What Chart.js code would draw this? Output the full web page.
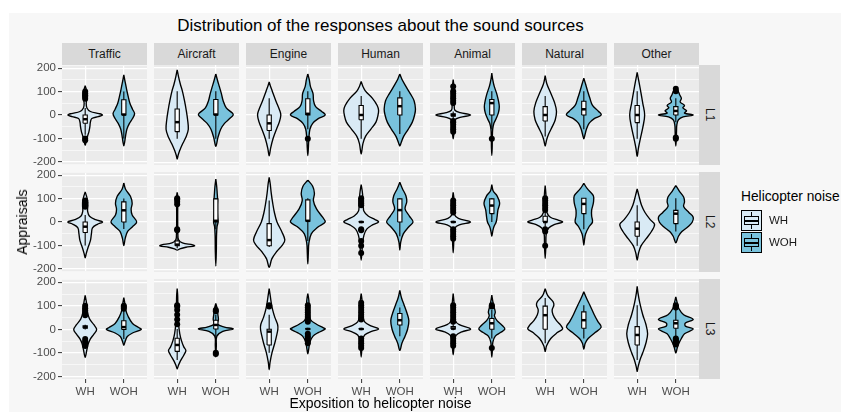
<!DOCTYPE html>
<html>
<head>
<meta charset="utf-8">
<script src="https://cdn.jsdelivr.net/npm/chart.js@4.4.1/dist/chart.umd.min.js"></script>
<style>
  body { margin: 0; width: 841px; height: 412px; background: #fff; position: relative; overflow: hidden;
         font-family: "Liberation Sans", Arial, sans-serif; }
  #sheet { position: absolute; left: 9px; top: 13px; right: 0; bottom: 0; background: #f7f7f7; }
  canvas { position: absolute; }
  .strip { position: absolute; background: #d9d9d9; color: #1a1a1a; font-size: 12px;
           display: flex; align-items: center; justify-content: center; }
  .strip.side { writing-mode: vertical-rl; }
  .txt { position: absolute; white-space: nowrap; }
  .key { position: absolute; width: 21px; height: 21px; box-sizing: border-box; border: 1px solid #000; }
  .key .box { position: absolute; left: 2px; right: 2px; top: 5px; bottom: 5px; border: 1px solid #000; }
  .key .med { position: absolute; left: 2px; right: 2px; top: 9px; height: 2px; background: #000; }
  .key .wh { position: absolute; left: 9px; width: 1px; background: #000; }
</style>
</head>
<body>
<div id="sheet"></div>
<script>
// Facets and groups
const sources = ['Traffic', 'Aircraft', 'Engine', 'Human', 'Animal', 'Natural', 'Other'];
const levels = ['L1', 'L2', 'L3'];
const groups = ['WH', 'WOH'];
const yTickValues = [-200, -100, 0, 100, 200];
const yTickLabels = ['-200', '-100', '0', '100', '200'];
const yGridValues = [-200, -150, -100, -50, 0, 50, 100, 150, 200];

// Violin outlines, one per source: flat (appraisal, relative half-width) pairs from top to bottom
const shapeL1WH = [
  [125,0, 110,.06, 90,.12, 70,.1, 50,.06, 30,.1, 15,.3, 6,.8, 0,1, -7,.75, -15,.38, -30,.3, -50,.27, -70,.22, -90,.14, -110,.07, -130,0],
  [190,0, 160,.08, 130,.18, 100,.3, 60,.42, 20,.52, -20,.6, -60,.64, -90,.52, -120,.32, -150,.14, -170,.05, -185,0],
  [139,0, 120,.08, 100,.18, 60,.38, 20,.6, 0,.67, -30,.58, -60,.42, -100,.22, -140,.08, -171,0],
  [141,0, 120,.1, 100,.25, 70,.65, 40,.92, 20,1, 0,.97, -30,.85, -60,.55, -90,.25, -120,.1, -164,0],
  [149,0, 120,.04, 80,.05, 40,.06, 20,.1, 10,.4, 0,1, -10,.4, -20,.1, -40,.06, -70,.05, -100,0],
  [165,0, 130,.1, 90,.33, 50,.55, 15,.65, -20,.58, -50,.4, -80,.2, -105,.08, -130,0],
  [179,0, 140,.1, 100,.2, 50,.32, 0,.43, -50,.33, -100,.18, -140,.07, -174,0]
];
const shapeL1WOH = [
  [172,0, 140,.08, 110,.16, 80,.25, 50,.35, 25,.5, 5,.62, -15,.5, -35,.33, -60,.18, -90,.1, -115,.05, -132,0],
  [172,0, 145,.1, 120,.2, 90,.32, 60,.42, 30,.6, 8,.95, 0,1, -15,.8, -35,.5, -60,.28, -95,.12, -132,0],
  [172,0, 150,.08, 120,.15, 90,.3, 60,.33, 35,.45, 15,.8, 0,1, -15,.6, -35,.28, -60,.12, -100,.06, -140,.03, -170,0],
  [172,0, 150,.12, 120,.35, 90,.6, 60,.82, 25,.9, 0,.85, -30,.72, -60,.48, -90,.22, -115,.08, -130,0],
  [176,0, 150,.05, 120,.14, 90,.28, 60,.38, 35,.43, 10,.38, -15,.25, -35,.12, -60,.05, -100,.03, -140,.02, -170,0],
  [155,0, 130,.1, 100,.22, 70,.35, 40,.5, 15,.85, 0,1, -15,.6, -35,.3, -60,.15, -85,.06, -100,0],
  [120,0, 100,.14, 85,.22, 70,.32, 55,.25, 40,.5, 30,.4, 18,.62, 8,.5, 0,1, -8,.42, -20,.15, -40,.06, -70,.04, -100,.03, -130,0]
];
const shapeL2WH = [
  [129,0, 110,.08, 90,.14, 70,.15, 45,.14, 25,.25, 10,.6, 0,1, -10,.7, -25,.42, -50,.36, -80,.3, -110,.16, -135,.06, -153,0],
  [125,0, 110,.03, 90,.04, 50,.03, 0,.03, -50,.04, -75,.08, -88,.3, -96,.9, -100,1, -106,.5, -113,.15, -118,0],
  [187,0, 160,.06, 120,.12, 80,.2, 40,.3, 0,.45, -40,.72, -75,.9, -95,.78, -125,.42, -155,.15, -190,0],
  [157,0, 130,.06, 100,.1, 70,.12, 45,.16, 25,.4, 10,.8, 0,1, -12,.65, -30,.32, -55,.16, -90,.08, -130,.04, -160,0],
  [125,0, 100,.04, 60,.06, 30,.08, 15,.3, 0,1, -12,.35, -25,.1, -50,.05, -90,.03, -129,0],
  [153,0, 120,.04, 80,.06, 40,.1, 20,.3, 8,.75, 0,1, -10,.55, -25,.2, -50,.06, -100,.04, -153,0],
  [139,0, 110,.1, 70,.25, 40,.45, 10,.75, -10,1, -40,.82, -70,.52, -100,.22, -130,.08, -160,0]
];
const shapeL2WOH = [
  [167,0, 140,.1, 110,.38, 80,.48, 55,.42, 30,.48, 0,.74, -20,.5, -40,.22, -70,.08, -101,0],
  [180,0, 150,.05, 120,.08, 95,.1, 60,.08, 20,.1, 0,.13, -20,.07, -60,.04, -120,.03, -185,0],
  [176,0, 150,.28, 120,.38, 90,.32, 55,.5, 20,.85, 0,1, -20,.6, -50,.2, -90,.06, -130,.03, -176,0],
  [167,0, 140,.15, 110,.35, 85,.4, 55,.3, 25,.55, 0,.76, -20,.52, -50,.2, -85,.05, -118,0],
  [157,0, 130,.08, 110,.3, 80,.45, 50,.35, 20,.3, 0,.25, -20,.12, -40,.05, -60,0],
  [162,0, 140,.2, 110,.55, 80,.55, 50,.45, 25,.45, 0,.5, -20,.3, -50,.1, -75,.04, -97,0],
  [153,0, 130,.2, 105,.45, 85,.5, 65,.45, 40,.75, 20,1, 0,.95, -20,.7, -40,.35, -60,.15, -87,0]
];
const shapeL3WH = [
  [144,0, 120,.06, 100,.1, 70,.14, 45,.25, 20,.5, 0,.66, -20,.5, -40,.3, -60,.18, -85,.1, -118,0],
  [170,0, 140,.03, 100,.04, 60,.05, 20,.08, -20,.15, -50,.25, -75,.38, -90,.5, -110,.38, -135,.18, -155,.06, -168,0],
  [170,0, 140,.06, 110,.12, 80,.2, 50,.32, 20,.48, 0,.5, -30,.42, -60,.32, -100,.16, -140,.05, -171,0],
  [149,0, 120,.05, 90,.06, 60,.1, 30,.2, 12,.6, 0,1, -10,.6, -25,.2, -50,.06, -80,.04, -118,0],
  [149,0, 110,.05, 70,.06, 35,.12, 18,.35, 0,1, -12,.5, -28,.15, -50,.06, -80,.04, -108,0],
  [169,0, 140,.15, 115,.45, 100,.5, 80,.4, 60,.45, 35,.65, 15,.9, 0,1, -15,.7, -40,.32, -70,.08, -94,0],
  [179,0, 150,.05, 110,.15, 60,.32, 20,.5, -20,.6, -60,.5, -100,.32, -130,.16, -160,.05, -178,0]
];
const shapeL3WOH = [
  [135,0, 110,.06, 85,.1, 55,.25, 25,.5, 8,.85, 0,1, -15,.5, -30,.2, -50,.08, -67,0],
  [107,0, 85,.08, 60,.12, 40,.15, 20,.1, 8,.5, 0,1, -10,.4, -30,.06, -70,.03, -118,0],
  [149,0, 120,.06, 80,.08, 40,.15, 20,.5, 5,.9, 0,1, -15,.6, -30,.3, -55,.12, -80,.06, -104,0],
  [162,0, 130,.1, 100,.25, 65,.42, 35,.52, 0,.45, -30,.3, -60,.12, -90,0],
  [142,0, 115,.06, 90,.14, 70,.2, 55,.15, 35,.3, 15,.6, 0,.75, -15,.5, -30,.2, -55,.06, -90,.03, -118,0],
  [156,0, 130,.15, 100,.35, 60,.6, 30,.82, 8,1, -15,.65, -40,.25, -60,.08, -85,0],
  [135,0, 110,.08, 85,.18, 60,.45, 40,1, 25,.55, 12,.55, 0,1, -20,.5, -40,.32, -60,.18, -80,.08, -101,0]
];

// Box summaries per source: [lower whisker, Q1, median, Q3, upper whisker]
const boxL1WH  = [[-85,-35,-18,0,30], [-100,-70,-30,25,100], [-100,-65,-35,0,70], [-100,-20,0,40,80], [-15,-5,0,5,15], [-90,-25,0,35,80], [-100,-32,0,40,100]];
const boxL1WOH = [[-100,0,2,65,100], [-100,0,2,65,100], [-60,0,5,68,100], [-80,0,37,72,100], [-60,0,50,65,100], [-60,0,24,58,100], [-30,0,17,35,70]];
const boxL2WH  = [[-100,-45,-20,0,30], [-110,-100,-95,-80,-60], [-105,-100,-76,-7,90], [-5,-2,0,2,5], [-5,-2,0,2,5], [-20,0,0,24,40], [-100,-60,-28,0,70]];
const boxL2WOH = [[-30,0,50,86,100], [-30,0,5,97,100], [-80,3,5,93,100], [-60,0,50,97,100], [0,35,69,97,100], [-30,35,76,100,100], [-40,-7,35,49,100]];
const boxL3WH  = [[0,5,10,15,20], [-130,-94,-67,-39,0], [-100,-67,-11,-1,60], [-5,-2,0,2,5], [-5,0,2,10,20], [-60,-1,58,96,130], [-130,-67,-25,10,100]];
const boxL3WOH = [[-40,0,10,37,80], [-40,0,17,37,60], [-5,-2,0,2,5], [-30,17,37,65,90], [-40,-1,24,44,80], [-40,3,37,72,100], [-30,3,24,37,80]];

// Outlying responses per source
const outL1WH  = [[100,92,85,78,70,-100,-108], [], [], [], [120,100,90,80,70,60,50,-25,-30,-40,-50,-60,-70], [], []];
const outL1WOH = [[], [], [-100], [], [-100], [], [110,100,-95,-100]];
const outL2WH  = [[92,85,78,72,65], [100,95,85,75,-30,-35], [], [100,92,85,78,70,-30,-35,-80,-100,-130], [90,80,70,60,50,40,-30,-40,-50,-60,-70], [100,90,80,70,60,50,-30,-40,-100], []];
const outL2WOH = [[], [], [], [], [], [], []];
const outL3WH  = [[100,90,80,70,60,-40,-50,-60,-70], [100,95,80,60,40,20], [100,95], [110,100,90,80,70,60,50,40,-40,-50,-60,-70,-80], [100,90,80,70,60,50,40,30,-30,-40,-50,-60,-70], [], []];
const outL3WOH = [[100,95,88], [80,75,-100,-105], [100,90,80,70,60,50,40,30,-20,-30,-40,-50,-60], [], [100,95,-80], [], [100,95,90,-40,-45,-50,-55,-60,-65]];

const shapes = { L1: { WH: shapeL1WH, WOH: shapeL1WOH }, L2: { WH: shapeL2WH, WOH: shapeL2WOH }, L3: { WH: shapeL3WH, WOH: shapeL3WOH } };
const boxes  = { L1: { WH: boxL1WH, WOH: boxL1WOH }, L2: { WH: boxL2WH, WOH: boxL2WOH }, L3: { WH: boxL3WH, WOH: boxL3WOH } };
const outs   = { L1: { WH: outL1WH, WOH: outL1WOH }, L2: { WH: outL2WH, WOH: outL2WOH }, L3: { WH: outL3WH, WOH: outL3WOH } };

const fills = { WH: '#d9eaf5', WOH: '#79c2dc' };
const halfMax = 0.45;   // widest violin half-width in x units
const boxHalf = 0.055;  // box half-width in x units
const yLimit = 210;

// Layout of the facet grid
const panelLeft = 62, panelW = 85, colStep = 92;
const panelTop = 65, panelH = 100, rowStep = 107;
const axisW = 45, axisH = 24, pad = 8;

Chart.defaults.font.family = '"Liberation Sans", Arial, sans-serif';

const panelBg = {
  id: 'panelBg',
  beforeDraw(chart) {
    const { ctx, chartArea: a } = chart;
    ctx.save();
    ctx.fillStyle = '#ebebeb';
    ctx.fillRect(a.left, a.top, a.right - a.left, a.bottom - a.top);
    ctx.restore();
  }
};

function violinDatasets(level, group, s, center) {
  const prof = shapes[level][group][s];
  const pts = [];
  for (let i = 0; i < prof.length; i += 2) pts.push({ x: center + prof[i + 1] * halfMax, y: prof[i] });
  for (let i = prof.length - 4; i >= 0; i -= 2) pts.push({ x: center - prof[i + 1] * halfMax, y: prof[i] });
  const [lo, q1, med, q3, hi] = boxes[level][group][s];
  const l = center - boxHalf, r = center + boxHalf;
  const line = { showLine: true, pointRadius: 0, borderColor: '#000', tension: 0, fill: false };
  return [
    Object.assign({}, line, { data: pts, fill: 'shape', backgroundColor: fills[group], borderWidth: 1.35, tension: 0.35, borderJoinStyle: 'round', order: 5 }),
    Object.assign({}, line, { data: [{ x: center, y: lo }, { x: center, y: hi }], borderWidth: 1.1, order: 4 }),
    Object.assign({}, line, { data: [{ x: l, y: q1 }, { x: r, y: q1 }, { x: r, y: q3 }, { x: l, y: q3 }, { x: l, y: q1 }], fill: 'shape', backgroundColor: '#ffffff', borderWidth: 1.1, order: 3 }),
    Object.assign({}, line, { data: [{ x: l, y: med }, { x: r, y: med }], borderWidth: 2.5, order: 2 }),
    { data: outs[level][group][s].map(v => ({ x: center, y: v })), showLine: false, pointRadius: 3,
      pointBackgroundColor: '#000', pointBorderWidth: 0, order: 1 }
  ];
}

function addDiv(cls, text, style) {
  const d = document.createElement('div');
  d.className = cls;
  d.textContent = text;
  Object.assign(d.style, style);
  document.body.appendChild(d);
  return d;
}

levels.forEach((level, r) => {
  sources.forEach((src, c) => {
    const left = panelLeft + c * colStep, top = panelTop + r * rowStep;
    const hasY = c === 0, hasX = r === levels.length - 1;
    const cv = document.createElement('canvas');
    const w = panelW + 2 * pad + (hasY ? axisW : 0);
    const h = panelH + 2 * pad + (hasX ? axisH : 0);
    cv.width = w; cv.height = h;
    Object.assign(cv.style, { left: (left - pad - (hasY ? axisW : 0)) + 'px', top: (top - pad) + 'px', width: w + 'px', height: h + 'px' });
    document.body.appendChild(cv);

    const datasets = [];
    groups.forEach((g, gi) => datasets.push(...violinDatasets(level, g, c, gi + 1)));

    new Chart(cv, {
      type: 'scatter',
      data: { datasets },
      options: {
        responsive: false, animation: false, devicePixelRatio: 1, events: [],
        layout: { padding: pad },
        plugins: { legend: { display: false }, tooltip: { enabled: false } },
        scales: {
          x: {
            type: 'linear', min: 0.4, max: 2.6,
            afterBuildTicks: s => { s.ticks = groups.map((g, i) => ({ value: i + 1 })); },
            afterFit: s => { s.height = hasX ? axisH : 0; },
            border: { display: false },
            grid: { color: '#ffffff', lineWidth: 1.2, drawTicks: hasX, tickLength: 4, tickColor: '#333333', tickWidth: 1 },
            ticks: { display: hasX, autoSkip: false, maxRotation: 0, padding: 2, color: '#4d4d4d', font: { size: 11.5 },
                     callback: v => groups[v - 1] }
          },
          y: {
            type: 'linear', min: -yLimit, max: yLimit,
            afterBuildTicks: s => { s.ticks = yGridValues.map(v => ({ value: v })); },
            afterFit: s => { s.width = hasY ? axisW : 0; },
            border: { display: false },
            grid: {
              color: '#ffffff',
              lineWidth: ctx => (ctx.tick && ctx.tick.value % 100 === 0) ? 1.2 : 0.6,
              drawTicks: hasY, tickLength: 4, tickWidth: 1,
              tickColor: ctx => (ctx.tick && yTickValues.includes(ctx.tick.value)) ? '#333333' : 'rgba(0,0,0,0)'
            },
            ticks: { display: hasY, autoSkip: false, padding: 2, color: '#4d4d4d', font: { size: 11.5 },
                     callback: v => { const i = yTickValues.indexOf(v); return i >= 0 ? yTickLabels[i] : ''; } }
          }
        }
      },
      plugins: [panelBg]
    });

    if (r === 0) {
      addDiv('strip', src, { left: left + 'px', top: (panelTop - 22) + 'px', width: panelW + 'px', height: '22px' });
    }
  });
  addDiv('strip side', level, { left: (panelLeft + 6 * colStep + panelW) + 'px', top: (panelTop + r * rowStep) + 'px', width: '21px', height: panelH + 'px' });
});

// Titles
const gridCenter = panelLeft + (6 * colStep + panelW) / 2;
addDiv('txt', 'Distribution of the responses about the sound sources',
  { left: gridCenter + 'px', top: '16px', fontSize: '17px', color: '#000', transform: 'translateX(-50%)' });
addDiv('txt', 'Exposition to helicopter noise',
  { left: gridCenter + 'px', top: '395px', fontSize: '14px', color: '#000', transform: 'translateX(-50%)' });
addDiv('txt', 'Appraisals',
  { left: '22px', top: '222px', fontSize: '14px', color: '#000', transform: 'translate(-50%,-50%) rotate(-90deg)' });

// Legend
addDiv('txt', 'Helicopter noise', { left: '741px', top: '189px', fontSize: '13.75px', color: '#000' });
groups.forEach((g, i) => {
  const top = 210 + i * 22;
  const key = addDiv('key', '', { left: '741px', top: top + 'px', background: fills[g] });
  const box = document.createElement('div'); box.className = 'box'; box.style.background = fills[g]; key.appendChild(box);
  const med = document.createElement('div'); med.className = 'med'; key.appendChild(med);
  const w1 = document.createElement('div'); w1.className = 'wh'; w1.style.top = '1px'; w1.style.height = '4px'; key.appendChild(w1);
  const w2 = document.createElement('div'); w2.className = 'wh'; w2.style.top = '14px'; w2.style.height = '4px'; key.appendChild(w2);
  addDiv('txt', g, { left: '769px', top: (top + 4) + 'px', fontSize: '11.5px', color: '#1a1a1a' });
});
</script>
</body>
</html>
